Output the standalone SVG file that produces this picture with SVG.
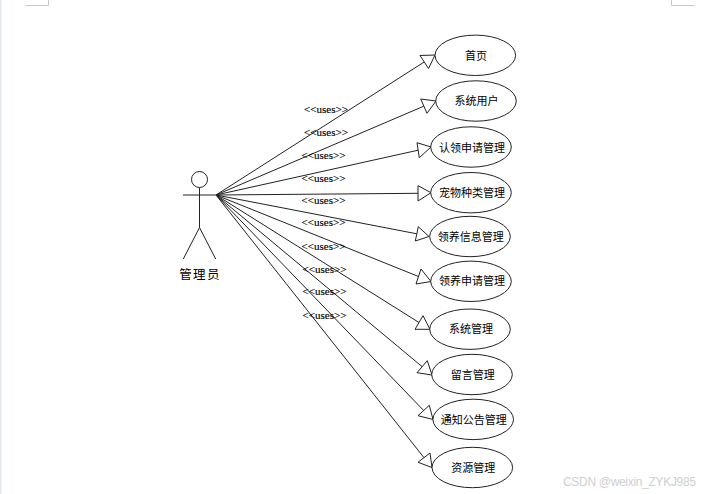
<svg xmlns="http://www.w3.org/2000/svg" width="717" height="494" viewBox="0 0 717 494">
<style>
.s{fill:none;stroke:#222;stroke-width:1}
.h{fill:#fff;stroke:#222;stroke-width:1}
.n{fill:#fff;stroke:#222;stroke-width:1}
.t{font-family:"Noto Sans CJK SC","Liberation Sans",sans-serif;font-size:11px;fill:#000;text-anchor:middle;dominant-baseline:central}
.u{font-family:"Liberation Serif",serif;font-size:11px;fill:#000;stroke:#000;stroke-width:.15;text-anchor:middle;dominant-baseline:central}
.m{fill:none;stroke:#c8c8c8;stroke-width:1}
</style>
<rect width="717" height="494" fill="#fff"/>
<rect x="0" y="0" width="1.5" height="494" fill="#e3e8ee"/>
<g id="page-marks">
<path class="m" d="M25.500 5.500H48.500V0"/>
<path class="m" d="M671.500 0V5.500H694.500"/>
</g>
<g id="connectors">
<path class="s" d="M216 195L424.200 62"/><polygon class="h" points="435,55 420,55.500 428.500,68.500"/>
<path class="s" d="M216 195L423.800 106.200"/><polygon class="h" points="436,101 420.700,99 427,113.300"/>
<path class="s" d="M216 195L418.200 150.200"/><polygon class="h" points="431,147 417,142.700 419.300,157.700"/>
<path class="s" d="M216 195L418 193.300"/><polygon class="h" points="431,192.700 418,185.700 418,201"/>
<path class="s" d="M216 195L416.800 233.800"/><polygon class="h" points="429,236.500 418.300,226.700 415.300,241"/>
<path class="s" d="M216 195L418.500 276.500"/><polygon class="h" points="431,281.500 421,269 416,284"/>
<path class="s" d="M216 195L419 322.500"/><polygon class="h" points="430,329.300 423,315.700 415,329.300"/>
<path class="s" d="M216 195L422.200 366.700"/><polygon class="h" points="432,375 427.300,360.700 417,372.700"/>
<path class="s" d="M216 195L423.700 410.500"/><polygon class="h" points="433,419.500 429.300,405.300 418,415.700"/>
<path class="s" d="M216 195L424 457.700"/><polygon class="h" points="432,467.500 430,453 418,462.300"/>
</g>
<g id="labels">
<text class="u" x="326" y="109">&lt;&lt;uses&gt;&gt;</text>
<text class="u" x="326" y="132">&lt;&lt;uses&gt;&gt;</text>
<text class="u" x="323.500" y="155">&lt;&lt;uses&gt;&gt;</text>
<text class="u" x="323.500" y="178">&lt;&lt;uses&gt;&gt;</text>
<text class="u" x="323.500" y="200">&lt;&lt;uses&gt;&gt;</text>
<text class="u" x="323.500" y="222">&lt;&lt;uses&gt;&gt;</text>
<text class="u" x="323.500" y="246">&lt;&lt;uses&gt;&gt;</text>
<text class="u" x="324.500" y="269">&lt;&lt;uses&gt;&gt;</text>
<text class="u" x="324.500" y="291">&lt;&lt;uses&gt;&gt;</text>
<text class="u" x="324.500" y="315">&lt;&lt;uses&gt;&gt;</text>
</g>
<g id="actor">
<circle class="s" cx="199.500" cy="179.500" r="8"/>
<path class="s" d="M183 195H216M199.500 187.500V227.500L183.300 259M199.500 227.500L215.700 259"/>
<text class="t" x="200" y="273" style="font-size:12.500px;letter-spacing:1.300px">管理员</text>
</g>
<g id="uc1"><ellipse class="n" cx="475.300" cy="55.300" rx="40.300" ry="20.200"/><text class="t" x="476" y="54.500">首页</text></g>
<g id="uc2"><ellipse class="n" cx="476" cy="101" rx="40.300" ry="20.200"/><text class="t" x="476.500" y="100">系统用户</text></g>
<g id="uc3"><ellipse class="n" cx="471" cy="147" rx="40.300" ry="20.200"/><text class="t" x="472" y="146.500">认领申请管理</text></g>
<g id="uc4"><ellipse class="n" cx="471" cy="192.700" rx="40.300" ry="20.200"/><text class="t" x="472" y="192">宠物种类管理</text></g>
<g id="uc5"><ellipse class="n" cx="470" cy="236.500" rx="40.300" ry="20.200"/><text class="t" x="470.700" y="235.500">领养信息管理</text></g>
<g id="uc6"><ellipse class="n" cx="471" cy="281.300" rx="40.300" ry="20.200"/><text class="t" x="472" y="280">领养申请管理</text></g>
<g id="uc7"><ellipse class="n" cx="470" cy="329.200" rx="40.300" ry="20.200"/><text class="t" x="471" y="328">系统管理</text></g>
<g id="uc8"><ellipse class="n" cx="472" cy="374.500" rx="40.300" ry="20.200"/><text class="t" x="472.700" y="373.500">留言管理</text></g>
<g id="uc9"><ellipse class="n" cx="473.200" cy="419.400" rx="40.300" ry="20.200"/><text class="t" x="473.700" y="418.500">通知公告管理</text></g>
<g id="uc10"><ellipse class="n" cx="472.300" cy="467.500" rx="40.300" ry="20.200"/><text class="t" x="473.300" y="466.500">资源管理</text></g>
<text id="watermark" x="563" y="481.500" style="font-family:'Liberation Sans',sans-serif;font-size:12px;fill:#cfcfcf;dominant-baseline:central" textLength="133">CSDN @weixin_ZYKJ985</text>
</svg>
